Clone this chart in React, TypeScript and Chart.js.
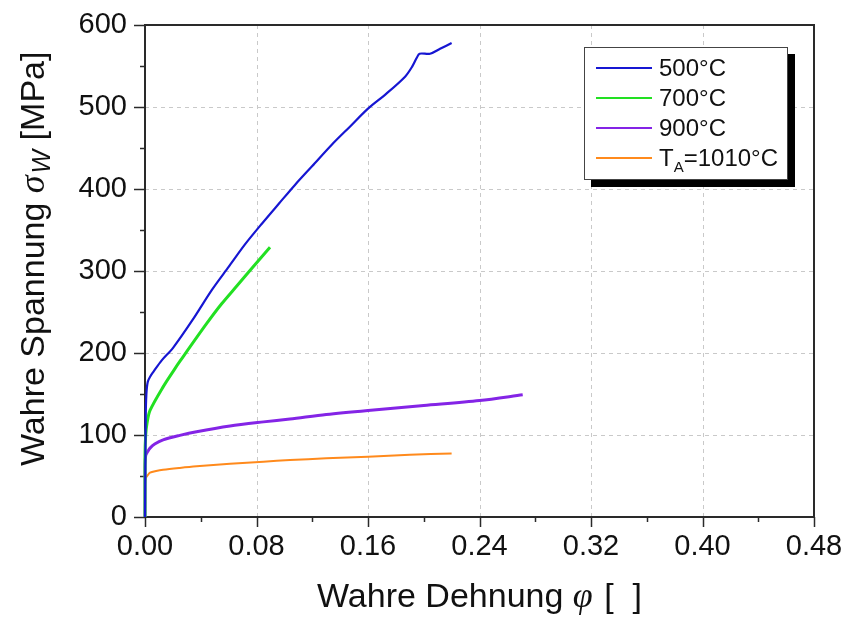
import React, { useEffect, useRef } from 'react';
import { Chart, registerables } from 'chart.js';

Chart.register(...registerables);

// ---- data ----
const strain500 = [0, 0.0005, 0.001, 0.002, 0.004, 0.006, 0.012, 0.02, 0.034, 0.048, 0.06, 0.072, 0.084, 0.096, 0.1076, 0.12, 0.134, 0.147, 0.16, 0.173, 0.1866, 0.1916, 0.195, 0.197, 0.2045, 0.2117, 0.22];
const stress500 = [0, 120, 150, 165, 172, 177, 191, 206, 240, 277, 305, 333, 358, 382, 405, 428, 454, 476, 498, 516, 537, 549, 560, 565, 565, 571, 578];

const strain700 = [0, 0, 0.0005, 0.0015, 0.0036, 0.0131, 0.0215, 0.0251, 0.0443, 0.055, 0.066, 0.077, 0.0897];
const stress700 = [0, 75, 100, 115, 130, 159, 181, 190, 236, 260, 282, 304, 329];

const strain900 = [0, 0, 0.0005, 0.002, 0.0036, 0.007, 0.013, 0.025, 0.037, 0.061, 0.085, 0.104, 0.13, 0.16, 0.2, 0.24, 0.271];
const stress900 = [0, 60, 75, 80, 84, 89, 94, 99.5, 104, 111, 116, 119.5, 125, 130, 136, 142, 149];

const strain1010 = [0, 0, 0.0005, 0.002, 0.0036, 0.008, 0.013, 0.025, 0.037, 0.061, 0.085, 0.104, 0.13, 0.16, 0.19, 0.22];
const stress1010 = [0, 40, 47.5, 51, 54, 56, 57.5, 59.8, 61.8, 65, 67.5, 69.5, 71.5, 73.5, 75.8, 77.5];

const seriesLabels = ['500°C', '700°C', '900°C', 'T_A=1010°C'];
const seriesColors = ['#1616d2', '#22e022', '#8424e6', '#ff8a1c'];
const seriesWidths = [2.2, 3, 3, 2];

const xMin = 0, xMax = 0.48, xStep = 0.04, xMajor = 0.08;
const yMin = 0, yMax = 600, yStep = 50, yMajor = 100;

const xTitleMain = 'Wahre Dehnung ';
const xTitleSym = 'φ';
const xTitleEnd = ' [  ]';
const yTitleMain = 'Wahre Spannung ';
const yTitleSym = 'σ';
const yTitleSub = 'W';
const yTitleEnd = ' [MPa]';

const SANS = "'Liberation Sans', Arial, sans-serif";
const SERIF = "'Liberation Serif', 'DejaVu Serif', serif";

const isMajor = (v: number, m: number) => Math.abs(v / m - Math.round(v / m)) < 1e-6;

const toPoints = (xs: number[], ys: number[]) => xs.map((x, i) => ({ x, y: ys[i] }));

const decorPlugin = {
  id: 'decor',
  beforeDatasetsDraw(chart: any) {
    const { ctx, chartArea: ca, scales } = chart;
    const xs = scales.x, ys = scales.y;
    ctx.save();
    ctx.strokeStyle = '#c9c9c9';
    ctx.lineWidth = 1;
    ctx.setLineDash([4, 4]);
    xs.ticks.forEach((t: any) => {
      if (isMajor(t.value, xMajor) && t.value > 1e-9 && t.value < xMax - 1e-9) {
        const p = Math.round(xs.getPixelForValue(t.value)) + 0.5;
        ctx.beginPath(); ctx.moveTo(p, ca.top); ctx.lineTo(p, ca.bottom); ctx.stroke();
      }
    });
    ys.ticks.forEach((t: any) => {
      if (isMajor(t.value, yMajor) && t.value > 1e-9 && t.value < yMax - 1e-9) {
        const p = Math.round(ys.getPixelForValue(t.value)) + 0.5;
        ctx.beginPath(); ctx.moveTo(ca.left, p); ctx.lineTo(ca.right, p); ctx.stroke();
      }
    });
    ctx.setLineDash([]);
    ctx.strokeStyle = '#2a2a2a';
    ctx.lineWidth = 2;
    ctx.strokeRect(ca.left, ca.top, ca.right - ca.left, ca.bottom - ca.top);
    ctx.lineWidth = 1.5;
    xs.ticks.forEach((t: any) => {
      const p = Math.round(xs.getPixelForValue(t.value)) + 0.5;
      const len = isMajor(t.value, xMajor) ? 10 : 5;
      ctx.beginPath(); ctx.moveTo(p, ca.bottom); ctx.lineTo(p, ca.bottom + len); ctx.stroke();
    });
    ys.ticks.forEach((t: any) => {
      const p = Math.round(ys.getPixelForValue(t.value)) + 0.5;
      const len = isMajor(t.value, yMajor) ? 11 : 5;
      ctx.beginPath(); ctx.moveTo(ca.left - len, p); ctx.lineTo(ca.left, p); ctx.stroke();
    });
    ctx.restore();
  },
  afterDraw(chart: any) {
    const { ctx, chartArea: ca } = chart;
    ctx.save();
    ctx.fillStyle = '#111';
    ctx.textBaseline = 'alphabetic';
    ctx.textAlign = 'left';

    const fMain = `34px ${SANS}`;
    const fSym = `italic 36px ${SERIF}`;
    ctx.font = fMain; const w1 = ctx.measureText(xTitleMain).width;
    ctx.font = fSym; const w2 = ctx.measureText(xTitleSym).width;
    ctx.font = fMain; const w3 = ctx.measureText(xTitleEnd).width;
    const cx = (ca.left + ca.right) / 2;
    let x0 = cx - (w1 + w2 + w3 + 2) / 2;
    const by = 607;
    ctx.font = fMain; ctx.fillText(xTitleMain, x0, by); x0 += w1;
    ctx.font = fSym; ctx.fillText(xTitleSym, x0, by); x0 += w2 + 2;
    ctx.font = fMain; ctx.fillText(xTitleEnd, x0, by);

    ctx.save();
    ctx.translate(44, 466);
    ctx.rotate(-Math.PI / 2);
    let p = 0;
    ctx.font = fMain; ctx.fillText(yTitleMain, p, 0); p += ctx.measureText(yTitleMain).width;
    ctx.font = fSym; ctx.fillText(yTitleSym, p, 0); p += ctx.measureText(yTitleSym).width + 2;
    ctx.font = `italic 25px ${SANS}`; ctx.fillText(yTitleSub, p, 6); p += ctx.measureText(yTitleSub).width;
    ctx.font = fMain; ctx.fillText(yTitleEnd, p, 0);
    ctx.restore();

    // legend
    const bx = ca.right - 230, byTop = ca.top + 22, bw = 203, bh = 132;
    ctx.fillStyle = '#000';
    ctx.fillRect(bx + 7, byTop + 7, bw + 1, bh + 1);
    ctx.fillStyle = '#fff';
    ctx.fillRect(bx, byTop, bw, bh);
    ctx.strokeStyle = '#444';
    ctx.lineWidth = 1;
    ctx.strokeRect(bx + 0.5, byTop + 0.5, bw, bh);
    chart.data.datasets.forEach((ds: any, i: number) => {
      const ly = byTop + 21 + i * 30;
      ctx.strokeStyle = ds.borderColor;
      ctx.lineWidth = 2;
      ctx.beginPath(); ctx.moveTo(bx + 12, ly); ctx.lineTo(bx + 68, ly); ctx.stroke();
      ctx.fillStyle = '#111';
      ctx.textBaseline = 'middle';
      const tx = bx + 75;
      const label: string = ds.label;
      const m = label.match(/^(.*?)_(\w)(.*)$/);
      ctx.font = `24px ${SANS}`;
      if (m) {
        let q = tx;
        ctx.fillText(m[1], q, ly + 1); q += ctx.measureText(m[1]).width;
        ctx.font = `15px ${SANS}`;
        ctx.fillText(m[2], q, ly + 10); q += ctx.measureText(m[2]).width;
        ctx.font = `24px ${SANS}`;
        ctx.fillText(m[3], q, ly + 1);
      } else {
        ctx.fillText(label, tx, ly + 1);
      }
    });
    ctx.restore();
  },
};

export default function App() {
  const ref = useRef<HTMLCanvasElement | null>(null);
  useEffect(() => {
    if (!ref.current) return;
    const strains = [strain500, strain700, strain900, strain1010];
    const stresses = [stress500, stress700, stress900, stress1010];
    const chart = new Chart(ref.current, {
      type: 'scatter',
      data: {
        datasets: seriesLabels.map((label, i) => ({
          label,
          data: toPoints(strains[i], stresses[i]),
          showLine: true,
          borderColor: seriesColors[i],
          backgroundColor: seriesColors[i],
          borderWidth: seriesWidths[i],
          pointRadius: 0,
          tension: 0.3,
          clip: 6,
        })),
      },
      options: {
        responsive: false,
        animation: false,
        layout: { padding: { left: 0, top: 25, right: 31, bottom: 0 } },
        plugins: { legend: { display: false }, tooltip: { enabled: false } },
        scales: {
          x: {
            type: 'linear',
            min: xMin,
            max: xMax,
            afterFit: (s: any) => { s.height = 105; s.paddingLeft = 0; s.paddingRight = 0; },
            grid: { display: false, drawTicks: false },
            border: { display: false },
            ticks: {
              stepSize: xStep,
              padding: 13,
              color: '#111',
              font: { family: SANS, size: 29 },
              maxRotation: 0,
              autoSkip: false,
              callback: (v: any) => (isMajor(Number(v), xMajor) ? Number(v).toFixed(2) : ''),
            },
          },
          y: {
            type: 'linear',
            min: yMin,
            max: yMax,
            afterFit: (s: any) => { s.width = 145; s.paddingTop = 0; s.paddingBottom = 0; },
            grid: { display: false, drawTicks: false },
            border: { display: false },
            ticks: {
              stepSize: yStep,
              padding: 18,
              color: '#111',
              font: { family: SANS, size: 29 },
              autoSkip: false,
              callback: (v: any) => (isMajor(Number(v), yMajor) ? String(Math.round(Number(v))) : ''),
            },
          },
        },
      },
      plugins: [decorPlugin],
    } as any);
    return () => chart.destroy();
  }, []);
  return (
    <div style={{ position: 'absolute', left: 0, top: 0, width: 845, height: 622, background: '#fff' }}>
      <canvas ref={ref} width={845} height={622} style={{ display: 'block' }} />
    </div>
  );
}
